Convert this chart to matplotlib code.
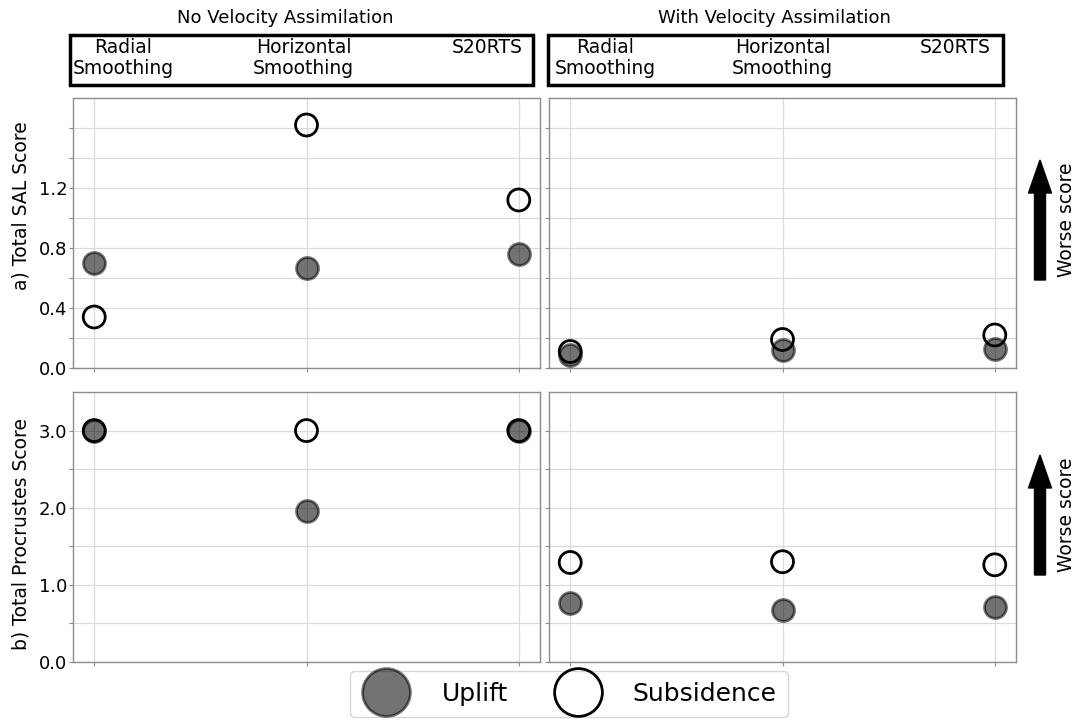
import numpy as np
import matplotlib
matplotlib.use("Agg")
import matplotlib.pyplot as plt
from matplotlib.lines import Line2D
from matplotlib.patches import FancyArrow, Rectangle

# Model variants compared in each column
models = ["Radial\nSmoothing", "Horizontal\nSmoothing", "S20RTS"]
panel_titles = ["No Velocity Assimilation", "With Velocity Assimilation"]

# Total SAL score (row a)
sal_uplift_novel = [0.70, 0.67, 0.76]
sal_subsid_novel = [0.34, 1.62, 1.12]
sal_uplift_vel = [0.09, 0.12, 0.13]
sal_subsid_vel = [0.11, 0.19, 0.22]

# Total Procrustes score (row b)
proc_uplift_novel = [3.0, 1.96, 3.0]
proc_subsid_novel = [3.0, 3.0, 3.0]
proc_uplift_vel = [0.76, 0.67, 0.71]
proc_subsid_vel = [1.29, 1.30, 1.26]

W, H = 1078, 723
fig = plt.figure(figsize=(W / 100, H / 100), dpi=100)
plt.rcParams["font.family"] = "DejaVu Sans"


def fx(px):
    return px / W


def fy(py):
    return 1 - py / H


def add_axes_px(x0, y0, x1, y1):
    return fig.add_axes([fx(x0), fy(y1), fx(x1) - fx(x0), (y1 - y0) / H])


ax_a0 = add_axes_px(73, 98, 540, 368)
ax_a1 = add_axes_px(549, 98, 1016, 368)
ax_b0 = add_axes_px(73, 392, 540, 662)
ax_b1 = add_axes_px(549, 392, 1016, 662)

xpos = np.arange(len(models))
spine_col = "#8c8c8c"
grid_col = "#dadada"
msize = 250


def style(ax, yt, ylabels, ylim, show_labels):
    ax.set_xlim(-0.1, 2.1)
    ax.set_ylim(*ylim)
    ax.set_xticks(xpos)
    ax.set_xticklabels([])
    ax.set_yticks(yt)
    ax.set_yticklabels(ylabels if show_labels else [])
    ax.grid(True, color=grid_col, linewidth=0.9)
    ax.set_axisbelow(True)
    for s in ax.spines.values():
        s.set_color(spine_col)
        s.set_linewidth(1.0)
    ax.tick_params(axis="both", length=3, width=0.8, color=spine_col,
                   labelsize=13, pad=1)


def draw(ax, upl, sub):
    ax.scatter(xpos, sub, s=msize, facecolor="none", edgecolor="k",
               linewidth=2, zorder=3)
    ax.scatter(xpos, upl, s=msize, color="k", alpha=0.55,
               linewidth=2, zorder=4)


sal_ticks = np.round(np.arange(0, 1.61, 0.2), 1)
sal_shown = {0.0, 0.4, 0.8, 1.2}
sal_labels = [f"{t:.1f}" if t in sal_shown else "" for t in sal_ticks]
proc_ticks = np.arange(0, 3.01, 0.5)
proc_labels = [f"{t:.1f}" if i % 2 == 0 else "" for i, t in enumerate(proc_ticks)]

for ax, show in [(ax_a0, True), (ax_a1, False)]:
    style(ax, sal_ticks, sal_labels, (0, 1.8), show)
for ax, show in [(ax_b0, True), (ax_b1, False)]:
    style(ax, proc_ticks, proc_labels, (0, 3.5), show)

draw(ax_a0, sal_uplift_novel, sal_subsid_novel)
draw(ax_a1, sal_uplift_vel, sal_subsid_vel)
draw(ax_b0, proc_uplift_novel, proc_subsid_novel)
draw(ax_b1, proc_uplift_vel, proc_subsid_vel)

ax_a0.set_ylabel("a) Total SAL Score", fontsize=13.5)
ax_a0.yaxis.set_label_coords(-0.09, 0.6)
ax_b0.set_ylabel("b) Total Procrustes Score", fontsize=13.5)
ax_b0.yaxis.set_label_coords(-0.09, 0.474)

# Column titles and header boxes naming the models
header_boxes = [(70, 533), (548, 1003)]
title_centers = [285, 774]
label_offsets = [[3, 183, 382], [7, 184, 372]]
for (x0, x1), tc, offs, title in zip(header_boxes, title_centers,
                                     label_offsets, panel_titles):
    fig.text(fx(tc), fy(18), title, ha="center", va="center", fontsize=13)
    fig.patches.append(Rectangle((fx(x0), fy(85)), fx(x1) - fx(x0), 50 / H,
                                 transform=fig.transFigure, fill=False,
                                 edgecolor="k", linewidth=2.5))
    for off, name in zip(offs, models):
        fig.text(fx(x0 + off), fy(38), name, ha="left", va="top",
                 multialignment="center", fontsize=13.5, linespacing=1.15)

# "Worse score" arrows beside each row
for tip, tail, tcenter in [(160, 280, 220), (455, 575, 515)]:
    fig.patches.append(FancyArrow(fx(1040), fy(tail), 0, (tail - tip) / H,
                                  width=fx(11), head_width=fx(23),
                                  head_length=33 / H, length_includes_head=True,
                                  color="k", transform=fig.transFigure))
    fig.text(fx(1066), fy(tcenter), "Worse score", rotation=90, ha="center",
             va="center", fontsize=13.5)

handles = [
    Line2D([], [], linestyle="none", marker="o", markersize=16,
           markerfacecolor=(0, 0, 0, 0.55), markeredgecolor=(0, 0, 0, 0.55),
           markeredgewidth=2, label="Uplift"),
    Line2D([], [], linestyle="none", marker="o", markersize=16,
           markerfacecolor="none", markeredgecolor="k", markeredgewidth=2,
           label="Subsidence"),
]
leg = fig.legend(handles=handles, loc="center", ncol=2,
                 bbox_to_anchor=(fx(569), fy(694)), fontsize=18,
                 markerscale=2.15, frameon=True, handletextpad=1.2,
                 columnspacing=1.8, borderpad=0.45)
leg.get_frame().set_edgecolor("#cccccc")

fig.savefig("out.png", dpi=100)
